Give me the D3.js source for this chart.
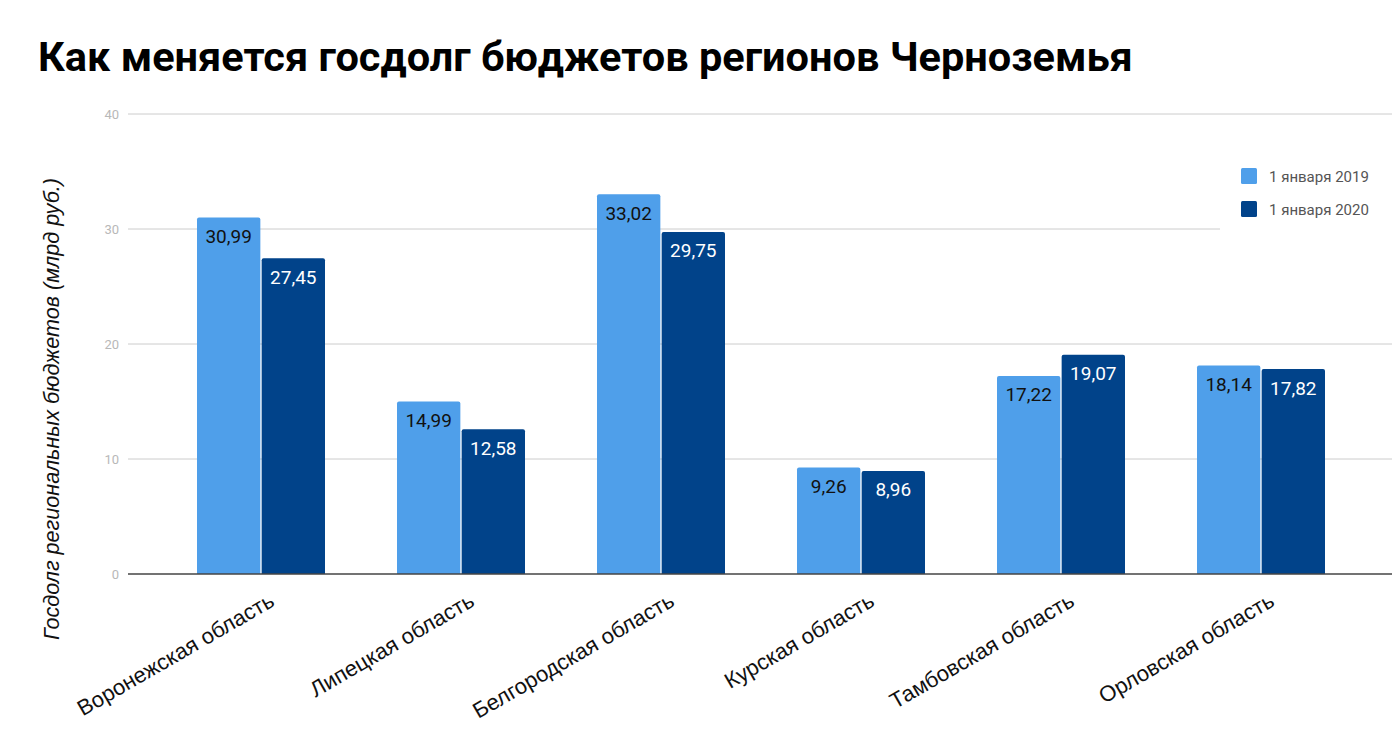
<!DOCTYPE html>
<html>
<head>
<meta charset="utf-8">
<script src="https://cdnjs.cloudflare.com/ajax/libs/d3/7.8.5/d3.min.js"></script>
<style>
  body { margin: 0; background: #fff; }
  svg { display: block; font-family: Roboto, "Noto Sans", sans-serif; }
</style>
</head>
<body>
<div id="chart"></div>
<script>
// data
const regions = ["Воронежская область", "Липецкая область", "Белгородская область",
                 "Курская область", "Тамбовская область", "Орловская область"];
const seriesNames = ["1 января 2019", "1 января 2020"];
const debt2019 = [30.99, 14.99, 33.02, 9.26, 17.22, 18.14];
const debt2020 = [27.45, 12.58, 29.75, 8.96, 19.07, 17.82];
const yTicks = [0, 10, 20, 30, 40];

const colors = ["#4f9fea", "#01438a"];
const labelColors = ["#111", "#fff"];

const W = 1396, H = 738;
const svg = d3.select("#chart").append("svg")
  .attr("width", W).attr("height", H);

// title
svg.append("text")
  .attr("x", 38).attr("y", 71)
  .attr("font-size", 41.5).attr("font-weight", "bold")
  .attr("fill", "#000")
  .text("Как меняется госдолг бюджетов регионов Черноземья");

// scales
const y = d3.scaleLinear().domain([0, 40]).range([574, 114]);
const x = d3.scaleBand().domain(regions).range([161, 1361])
  .paddingInner(0.36).paddingOuter(0.18);
const xs = d3.scaleBand().domain([0, 1]).range([0, x.bandwidth()]).paddingInner(0.02);

// gridlines
svg.append("g").selectAll("line")
  .data(yTicks.filter(d => d > 0))
  .join("line")
  .attr("x1", 128).attr("x2", 1392)
  .attr("y1", d => y(d)).attr("y2", d => y(d))
  .attr("stroke", "#cccccc").attr("stroke-width", 1);

// y tick labels
svg.append("g").selectAll("text")
  .data(yTicks)
  .join("text")
  .attr("x", 119).attr("y", d => y(d) + 4.5)
  .attr("text-anchor", "end")
  .attr("font-size", 13).attr("fill", "#b8b8b8")
  .text(d => d);

// y axis title
svg.append("text")
  .attr("transform", "translate(59,409) rotate(-90)")
  .attr("text-anchor", "middle")
  .attr("font-family", "'Liberation Sans', Arial, sans-serif")
  .attr("font-size", 21.6).attr("font-style", "italic")
  .attr("fill", "#111")
  .text("Госдолг региональных бюджетов (млрд руб.)");

// bars
const rows = regions.map((r, i) => ({region: r, vals: [debt2019[i], debt2020[i]]}));
const groups = svg.append("g").selectAll("g")
  .data(rows)
  .join("g")
  .attr("transform", d => "translate(" + x(d.region) + ",0)");

groups.selectAll("path")
  .data(d => d.vals.map((v, k) => ({v, k})))
  .join("path")
  .attr("fill", d => colors[d.k])
  .attr("d", d => {
    const x0 = xs(d.k), w = xs.bandwidth(), y0 = y(d.v), yb = y(0), r = 2;
    return "M" + x0 + "," + yb + "V" + (y0 + r) + "Q" + x0 + "," + y0 + " " + (x0 + r) + "," + y0 +
      "H" + (x0 + w - r) + "Q" + (x0 + w) + "," + y0 + " " + (x0 + w) + "," + (y0 + r) + "V" + yb + "Z";
  });

groups.selectAll("text")
  .data(d => d.vals.map((v, k) => ({v, k})))
  .join("text")
  .attr("x", d => xs(d.k) + xs.bandwidth() / 2)
  .attr("y", d => y(d.v) + 25.5)
  .attr("text-anchor", "middle")
  .attr("font-size", 19)
  .attr("fill", d => labelColors[d.k])
  .text(d => d.v.toFixed(2).replace(".", ","));

// baseline
svg.append("line")
  .attr("x1", 128).attr("x2", 1392)
  .attr("y1", y(0)).attr("y2", y(0))
  .attr("stroke", "#444").attr("stroke-width", 1.5);

// x labels
svg.append("g").selectAll("text")
  .data(regions)
  .join("text")
  .attr("transform", d => "translate(" + (x(d) + x.bandwidth() / 2 + 15) + ",605) rotate(-30)")
  .attr("text-anchor", "end")
  .attr("font-family", "'Liberation Sans', Arial, sans-serif")
  .attr("font-size", 22).attr("fill", "#111")
  .text(d => d);

// legend
const legend = svg.append("g");
legend.append("rect")
  .attr("x", 1220).attr("y", 150).attr("width", 172).attr("height", 82)
  .attr("fill", "#fff");
seriesNames.forEach((s, i) => {
  legend.append("rect")
    .attr("x", 1241).attr("y", 168 + i * 33).attr("width", 16).attr("height", 16)
    .attr("rx", 1.5)
    .attr("fill", colors[i]);
  legend.append("text")
    .attr("x", 1269).attr("y", 181.5 + i * 33)
    .attr("font-size", 15).attr("fill", "#555")
    .text(s);
});
</script>
</body>
</html>
